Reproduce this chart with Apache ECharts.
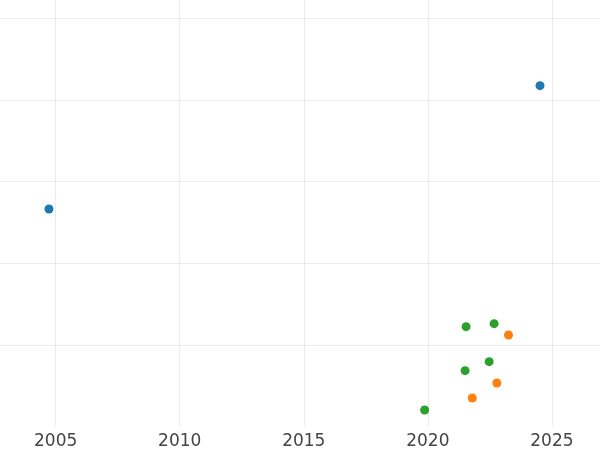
<!DOCTYPE html>
<html>
<head>
<meta charset="utf-8">
<script src="https://cdn.jsdelivr.net/npm/echarts@6/dist/echarts.min.js"></script>
<style>html,body{margin:0;padding:0;background:#fff}#c{width:600px;height:450px}</style>
</head>
<body>
<div id="c"></div>
<script>
const xTicks = [2000, 2005, 2010, 2015, 2020, 2025, 2030];
const seriesBlue = [[2004.73, 2.664], [2024.52, 4.172]];
const seriesOrange = [[2023.25, 1.122], [2022.78, 0.535], [2021.79, 0.351]];
const seriesGreen = [[2021.54, 1.224], [2022.67, 1.261], [2022.47, 0.796], [2021.50, 0.686], [2019.87, 0.205]];

const chart = echarts.init(document.getElementById('c'), null, {renderer: 'canvas'});
const gridColor = '#ebebeb';
chart.setOption({
  animation: false,
  backgroundColor: '#ffffff',
  grid: {left: -68.4, right: -76, top: -63.75, bottom: 23.25, containLabel: false, outerBoundsMode: 'none'},
  xAxis: {
    type: 'value', min: xTicks[0], max: xTicks[xTicks.length - 1], interval: 5,
    axisLine: {show: false}, axisTick: {show: false},
    axisLabel: {color: '#444444', fontSize: 17, fontFamily: 'DejaVu Sans', margin: 6, formatter: v => String(v)},
    splitLine: {show: true, lineStyle: {color: gridColor, width: 1}}
  },
  yAxis: {
    type: 'value', min: 0, max: 6, interval: 1,
    axisLine: {show: false}, axisTick: {show: false}, axisLabel: {show: false},
    splitLine: {show: true, lineStyle: {color: ['rgba(0,0,0,0)', gridColor, gridColor, gridColor, gridColor, gridColor, gridColor], width: 1}}
  },
  series: [
    {type: 'scatter', data: seriesBlue, symbolSize: 9, itemStyle: {color: '#1f77b4', opacity: 1}},
    {type: 'scatter', data: seriesOrange, symbolSize: 9, itemStyle: {color: '#ff7f0e', opacity: 1}},
    {type: 'scatter', data: seriesGreen, symbolSize: 9, itemStyle: {color: '#2ca02c', opacity: 1}}
  ]
});
</script>
</body>
</html>
